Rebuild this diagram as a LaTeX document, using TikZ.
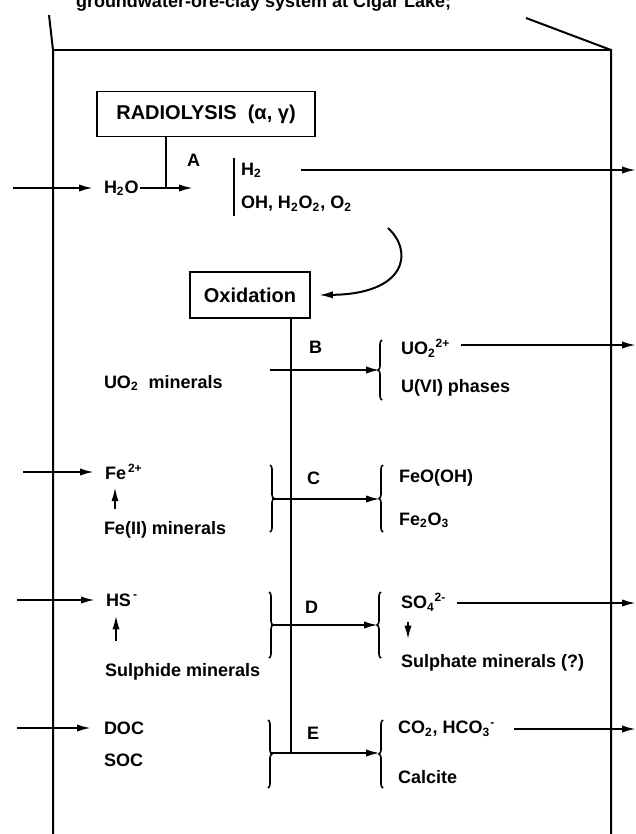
\documentclass[tikz,border=0pt]{standalone}
\usepackage{fontspec}
\setmainfont{Liberation Sans}
\usetikzlibrary{arrows.meta,decorations.pathreplacing}

\begin{document}
\begin{tikzpicture}[x=0.5pt,y=-0.5pt,line width=1pt,
    flow/.style={-{Latex[length=7pt,width=3.6pt]}},
    lbl/.style={anchor=west,inner sep=0pt,font=\bfseries\fontsize{9}{11}\selectfont},
    procbox/.style={draw,line width=0.9pt,inner sep=0pt,font=\bfseries\fontsize{10}{12}\selectfont},
    brk/.style={decorate,decoration={brace,amplitude=2pt},line width=0.8pt}]
    \useasboundingbox (0,0) rectangle (636,834);
    % caption, cut by the page edge
    \node[lbl,anchor=base west] (title) at (75,8) {groundwater-ore-clay system at Cigar Lake;};
    % frame
    \draw (49,15) -- (53,50) -- (53,834);
    \draw (53,50) -- (611,50);
    \draw (526,18) -- (611,50) -- (611,834);
    % radiolysis
    \node[procbox,minimum width=109pt,minimum height=22.5pt] (rad) at (206,114) {RADIOLYSIS\ \ (α, γ)};
    \node[lbl] (h2o) at (103,188) {H\textsubscript{2}O};
    \coordinate (h2oin) at (13,188);
    \coordinate (a1) at (166,188);
    \coordinate (a2) at (193,188);
    \draw[flow,shorten >=5pt] (h2oin) -- (h2o.west);
    \draw[flow] (h2o.east) -- (a2);
    \draw (rad.south -| a1) -- (a1);
    \node[lbl] (labA) at (186,160) {A};
    \draw[line width=0.8pt] (234,158) -- (234,216);
    \node[lbl] (h2) at (240,170) {H\textsubscript{2}};
    \node[lbl] (ohs) at (240,204) {OH, H\textsubscript{2}O\textsubscript{2}, O\textsubscript{2}};
    \coordinate (h2out) at (636,170);
    \draw[flow,shorten <=19pt] (h2.east) -- (h2out);
    % oxidation
    \node[procbox,minimum width=60pt,minimum height=23pt] (oxi) at (250,295) {Oxidation};
    \draw[flow] (388,228) .. controls (414,252) and (406,294) .. ([xshift=4pt]oxi.east);
    \coordinate (mainE) at (291,753);
    \draw (oxi.south -| mainE) -- (mainE);
    % B
    \node[lbl] (labB) at (308,347) {B};
    \node[lbl] (uo2m) at (103,383) {UO\textsubscript{2}\ \ minerals};
    \coordinate (bL) at (270,370);
    \coordinate (bR) at (380,370);
    \draw[flow] (bL) -- (bR);
    \draw[brk] (382,400) -- (382,340);
    \node[lbl] (uo2) at (400,348) {UO\textsubscript{2}\textsuperscript{2+}};
    \coordinate (uo2out) at (636,345);
    \draw[flow,shorten <=5pt] (uo2.east |- uo2out) -- (uo2out);
    \node[lbl] (u6) at (400,388) {U(VI) phases};
    % C
    \node[lbl] (fe) at (104,472) {Fe\textsuperscript{\,2+}};
    \coordinate (fein) at (23,472);
    \draw[flow,shorten >=5pt] (fein) -- (fe.west);
    \node[lbl] (femin) at (103,530) {Fe(II) minerals};
    \coordinate (fearr) at (115,0);
    \draw[flow,shorten <=6pt,shorten >=3pt] (femin.north -| fearr) -- (fe.south -| fearr);
    \draw[brk] (270,465) -- (270,532);
    \coordinate (cL) at (272,499);
    \coordinate (cR) at (380,499);
    \draw[flow] (cL) -- (cR);
    \draw[brk] (383,532) -- (383,465);
    \node[lbl] (labC) at (306,478) {C};
    \node[lbl] (feooh) at (398,478) {FeO(OH)};
    \node[lbl] (fe2o3) at (398,520) {Fe\textsubscript{2}O\textsubscript{3}};
    % D
    \node[lbl] (hs) at (105,600) {HS\textsuperscript{\,-}};
    \coordinate (hsin) at (17,600);
    \draw[flow,shorten >=5pt] (hsin) -- (hs.west);
    \node[lbl] (sulf) at (104,672) {Sulphide minerals};
    \coordinate (hsarr) at (116,0);
    \draw[flow,shorten <=11pt,shorten >=4pt] (sulf.north -| hsarr) -- (hs.south -| hsarr);
    \draw[brk] (269,592) -- (269,658);
    \coordinate (dL) at (271,625);
    \coordinate (dR) at (378,625);
    \draw[flow] (dL) -- (dR);
    \draw[brk] (381,658) -- (381,592);
    \node[lbl] (labD) at (304,607) {D};
    \node[lbl] (so4) at (400,602) {SO\textsubscript{4}\textsuperscript{2-}};
    \coordinate (so4out) at (636,603);
    \draw[flow,shorten <=5pt] (so4.east |- so4out) -- (so4out);
    \node[lbl] (sulfate) at (400,663) {Sulphate minerals (?)};
    \coordinate (so4arr) at (408,0);
    \draw[flow,shorten <=5pt,shorten >=7pt] (so4.south -| so4arr) -- (sulfate.north -| so4arr);
    % E
    \node[lbl] (doc) at (103,728) {DOC};
    \coordinate (docin) at (17,728);
    \draw[flow,shorten >=6pt] (docin) -- (doc.west);
    \node[lbl] (soc) at (103,760) {SOC};
    \draw[brk] (268,720) -- (268,788);
    \coordinate (eR) at (380,753);
    \draw[flow] (270,753) -- (eR);
    \draw[brk] (383,788) -- (383,720);
    \node[lbl] (labE) at (306,733) {E};
    \node[lbl] (co2) at (397,729) {CO\textsubscript{2}, HCO\textsubscript{3}\textsuperscript{-}};
    \coordinate (co2out) at (636,729);
    \draw[flow,shorten <=9pt] (co2.east |- co2out) -- (co2out);
    \node[lbl] (calc) at (397,777) {Calcite};
\end{tikzpicture}
\end{document}
